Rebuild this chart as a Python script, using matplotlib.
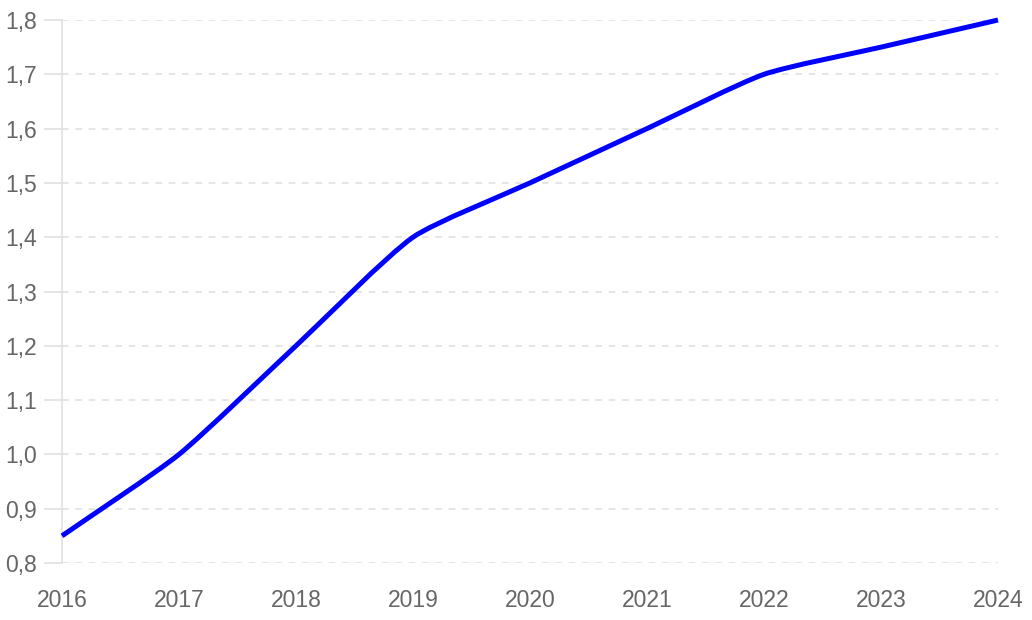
import numpy as np
import matplotlib.pyplot as plt
from matplotlib.path import Path
from matplotlib.patches import PathPatch

years = [2016, 2017, 2018, 2019, 2020, 2021, 2022, 2023, 2024]
values = [0.85, 1.0, 1.2, 1.4, 1.5, 1.6, 1.7, 1.75, 1.8]
y_ticks = [0.8, 0.9, 1.0, 1.1, 1.2, 1.3, 1.4, 1.5, 1.6, 1.7, 1.8]


def spline_path(ax, x, y, tension=0.2):
    """Cubic Bezier path through the points, control points in pixel space."""
    pts = ax.transData.transform(np.column_stack([x, y]))
    n = len(pts)
    verts = [pts[0]]
    codes = [Path.MOVETO]
    ctrl_prev = [None] * n
    ctrl_next = [None] * n
    for i in range(n):
        prev = pts[max(i - 1, 0)]
        cur = pts[i]
        nxt = pts[min(i + 1, n - 1)]
        d01 = np.hypot(*(cur - prev))
        d12 = np.hypot(*(nxt - cur))
        tot = d01 + d12
        fa = tension * d01 / tot if tot else 0
        fb = tension * d12 / tot if tot else 0
        ctrl_prev[i] = cur - fa * (nxt - prev)
        ctrl_next[i] = cur + fb * (nxt - prev)
    for i in range(n - 1):
        verts += [ctrl_next[i], ctrl_prev[i + 1], pts[i + 1]]
        codes += [Path.CURVE4] * 3
    verts = ax.transData.inverted().transform(np.array(verts))
    return Path(verts, codes)


plt.rcParams['font.family'] = ['Liberation Sans', 'DejaVu Sans']

fig = plt.figure(figsize=(10.32, 6.2), dpi=100)
ax = fig.add_axes([62 / 1032, 57 / 620, 936 / 1032, 543 / 620])

ax.set_xlim(years[0], years[-1])
ax.set_ylim(y_ticks[0], y_ticks[-1])
ax.set_xticks(years)
ax.set_yticks(y_ticks)
ax.set_yticklabels([f"{v:.1f}".replace('.', ',') for v in y_ticks])

ax.add_patch(PathPatch(spline_path(ax, years, values), facecolor='none',
                       edgecolor='#0000ff', lw=3.6, capstyle='butt',
                       clip_on=False, zorder=3))

ax.grid(axis='y', color='#e0e0e0', linestyle=(0, (4, 4)), linewidth=1.2)
for side in ['top', 'right', 'bottom']:
    ax.spines[side].set_visible(False)
ax.spines['left'].set_color('#e0e0e0')
ax.spines['left'].set_linewidth(1.2)

ax.tick_params(axis='y', length=13, width=1.2, color='#e0e0e0', pad=5,
               labelsize=16.5, labelcolor='#666666')
ax.tick_params(axis='x', length=0, pad=19, labelsize=16.5, labelcolor='#666666')

fig.savefig('out.png', dpi=100)
